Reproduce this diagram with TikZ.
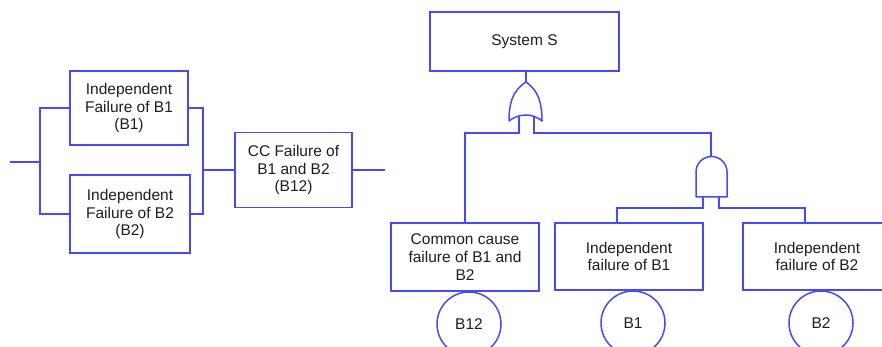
\documentclass[tikz,border=0pt]{standalone}
\usepackage{fontspec}
\setmainfont{Liberation Sans}
\begin{document}
\begin{tikzpicture}[x=1pt,y=-1pt,
  wire/.style={draw=linkblue,line width=1.5pt},
  blk/.style={draw=linkblue,line width=1.5pt,fill=white,align=center,
    inner sep=0pt,font=\fontsize{15.5}{17.7}\selectfont,text=txt},
  evt/.style={circle,draw=linkblue,line width=1.5pt,fill=white,inner sep=0pt,
    minimum size=64pt,font=\fontsize{15.5}{17.7}\selectfont,text=txt},
  gatebody/.style={draw=linkblue,line width=1.5pt,fill=white,line join=round}]
\definecolor{linkblue}{RGB}{72,72,255}
\definecolor{txt}{RGB}{30,30,30}
\useasboundingbox (0,0) rectangle (882,347);
\clip (0,0) rectangle (882,347);

% ---- reliability block diagram ----
\node[blk,minimum width=118pt,minimum height=74pt] (rb1) at (129,108) {Independent\\Failure of B1\\(B1)};
\node[blk,minimum width=120pt,minimum height=78pt] (rb2) at (130,214) {Independent\\Failure of B2\\(B2)};
\node[blk,minimum width=117pt,minimum height=75pt] (rb12) at (293.5,170) {CC Failure of\\B1 and B2\\(B12)};
\coordinate (rin) at (10,162);
\coordinate (rsplit) at (40,162);
\coordinate (rjoin) at (203,170);
\coordinate (rout) at (385,170);

\draw[wire] (rin) -- (rsplit);
\draw[wire] (rsplit) |- (rb1.west);
\draw[wire] (rsplit) |- (rb2.west);
\draw[wire] (rb1.east) -| (rjoin);
\draw[wire] (rb2.east) -| (rjoin);
\draw[wire] (rjoin) -- (rb12.west);
\draw[wire] (rb12.east) -- (rout);

% ---- fault tree ----
\node[blk,minimum width=189pt,minimum height=59pt] (top) at (524.5,41.5) {System S};
\node[blk,minimum width=148pt,minimum height=68pt] (ccf) at (465,257) {Common cause\\failure of B1 and\\B2};
\node[blk,minimum width=148pt,minimum height=67pt] (ib1) at (629,256.5) {Independent\\failure of B1};
\node[blk,minimum width=148pt,minimum height=67pt] (ib2) at (817,256.5) {Independent\\failure of B2};

% OR gate
\coordinate (orout) at (526,82);
\coordinate (orin1) at (519,117);
\coordinate (orin2) at (534,117);
\coordinate (orbus1) at (519,133);
\coordinate (orbus2) at (534,133);
% AND gate
\coordinate (andout) at (711,157);
\coordinate (andin1) at (703,197);
\coordinate (andin2) at (719,197);
\coordinate (andbus1) at (703,208);
\coordinate (andbus2) at (719,208);

\draw[wire] (top.south -| orout) -- (orout);
\draw[wire] (orin1) -- (orbus1) -| (ccf.north);
\draw[wire] (orin2) -- (orbus2) -| (andout);
\draw[wire] (andin1) -- (andbus1) -| (ib1.north -| 617,0);
\draw[wire] (andin2) -- (andbus2) -| (ib2.north -| 805,0);

\draw[gatebody] (orout) .. controls (539,91) and (542,104) .. (542,121)
  .. controls (533,113) and (519,113) .. (509,121)
  .. controls (509,104) and (512,91) .. (orout) -- cycle;
\draw[gatebody] (696,197) -- (696,172) arc[start angle=180,end angle=360,radius=15.5] -- (727,197) -- cycle;

% basic events
\node[evt] (e12) at (469,324) {B12};
\node[evt] (e1) at (633,323) {B1};
\node[evt] (e2) at (821,323) {B2};
\end{tikzpicture}
\end{document}
